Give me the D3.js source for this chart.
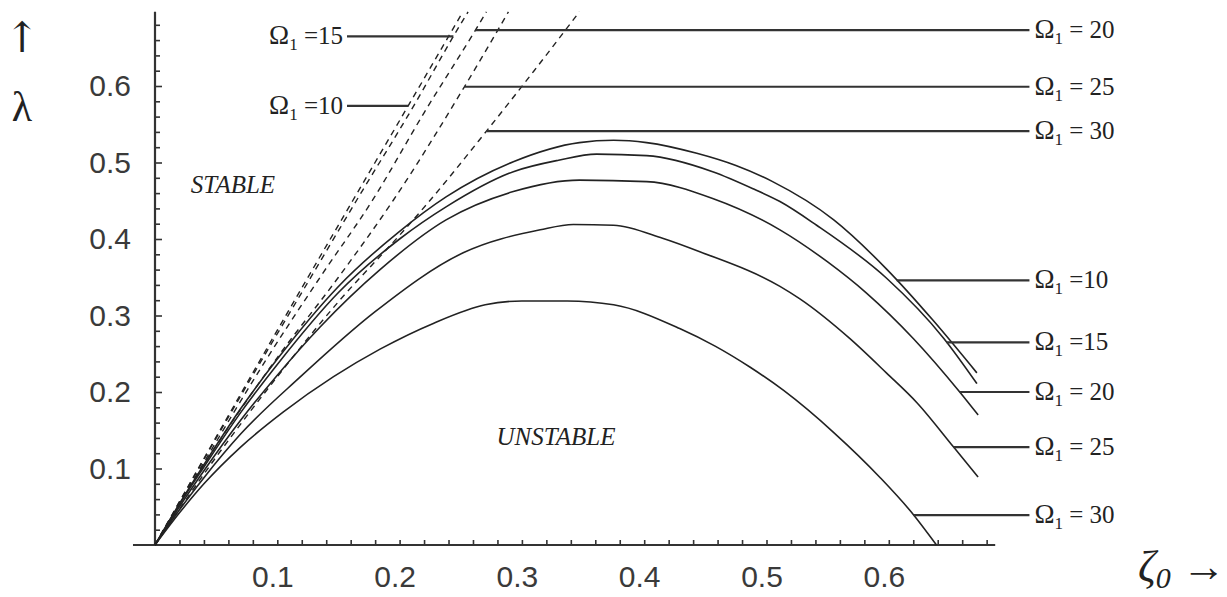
<!DOCTYPE html>
<html>
<head>
<meta charset="utf-8">
<script src="https://cdn.jsdelivr.net/npm/d3@7/dist/d3.min.js"></script>
<style>
  body { margin: 0; background: #fff; }
  text { fill: #222; }
</style>
</head>
<body>
<svg id="chart" width="1227" height="597"></svg>
<script>
// Omega_1 values of the five cases
var omegas = [10, 15, 20, 25, 30];
var omegaText = ['=10', '=15', '= 20', '= 25', '= 30'];

// stability boundaries (solid), [zeta0, lambda]
var solid10 = [[0, 0], [0.02, 0.054], [0.04, 0.105], [0.07, 0.178], [0.1, 0.243], [0.15, 0.338], [0.2, 0.41], [0.238, 0.455], [0.293, 0.501], [0.347, 0.526], [0.375, 0.529], [0.402, 0.526], [0.443, 0.512], [0.475, 0.496], [0.505, 0.475], [0.555, 0.425], [0.598, 0.361], [0.636, 0.294], [0.672, 0.225]];
var solid15 = [[0, 0], [0.02, 0.053], [0.04, 0.102], [0.07, 0.173], [0.1, 0.236], [0.15, 0.33], [0.2, 0.4], [0.238, 0.442], [0.293, 0.488], [0.33, 0.503], [0.361, 0.511], [0.402, 0.509], [0.456, 0.488], [0.49, 0.465], [0.511, 0.449], [0.541, 0.418], [0.598, 0.349], [0.645, 0.27], [0.672, 0.211]];
var solid20 = [[0, 0], [0.02, 0.05], [0.04, 0.097], [0.07, 0.163], [0.1, 0.222], [0.135, 0.285], [0.184, 0.36], [0.238, 0.425], [0.293, 0.462], [0.347, 0.477], [0.402, 0.475], [0.456, 0.453], [0.511, 0.412], [0.55, 0.37], [0.582, 0.329], [0.62, 0.27], [0.658, 0.2], [0.673, 0.17]];
var solid25 = [[0, 0], [0.02, 0.046], [0.04, 0.088], [0.07, 0.145], [0.119, 0.22], [0.18, 0.305], [0.252, 0.382], [0.315, 0.412], [0.342, 0.419], [0.375, 0.418], [0.415, 0.401], [0.446, 0.383], [0.511, 0.338], [0.527, 0.322], [0.568, 0.27], [0.598, 0.225], [0.623, 0.186], [0.653, 0.128], [0.673, 0.089]];
var solid30 = [[0, 0], [0.02, 0.042], [0.04, 0.08], [0.07, 0.128], [0.105, 0.174], [0.146, 0.22], [0.184, 0.256], [0.228, 0.29], [0.27, 0.314], [0.3, 0.319], [0.337, 0.319], [0.375, 0.314], [0.429, 0.283], [0.458, 0.26], [0.487, 0.232], [0.514, 0.202], [0.555, 0.147], [0.593, 0.088], [0.62, 0.04], [0.639, 0]];

// dashed curves
var dashed10 = [[0, 0], [0.04, 0.113], [0.08, 0.225], [0.12, 0.336], [0.162, 0.451], [0.207, 0.574], [0.251, 0.695]];
var dashed15 = [[0, 0], [0.04, 0.112], [0.08, 0.222], [0.12, 0.33], [0.165, 0.451], [0.213, 0.578], [0.244, 0.665], [0.256, 0.697]];
var dashed20 = [[0, 0], [0.04, 0.108], [0.09, 0.24], [0.135, 0.35], [0.178, 0.451], [0.22, 0.565], [0.262, 0.673], [0.271, 0.697]];
var dashed25 = [[0, 0], [0.04, 0.105], [0.1, 0.245], [0.15, 0.35], [0.195, 0.451], [0.253, 0.599], [0.289, 0.697]];
var dashed30 = [[0, 0], [0.05, 0.115], [0.1, 0.22], [0.15, 0.318], [0.2, 0.405], [0.222, 0.445], [0.271, 0.541], [0.31, 0.62], [0.347, 0.697]];

var solidCurves = [solid10, solid15, solid20, solid25, solid30];
var dashedCurves = [dashed10, dashed15, dashed20, dashed25, dashed30];

// lambda levels where the labels point at the curves
var solidLabelLambda = [0.346, 0.265, 0.2, 0.128, 0.039];
var dashedLeftOmegas = [15, 10];
var dashedLeftLambda = [0.665, 0.574];
var dashedRightOmegas = [20, 25, 30];
var dashedRightLambda = [0.673, 0.599, 0.541];

// axes ticks
var tickValues = d3.range(1, 35).map(function (i) { return +(i * 0.02).toFixed(2); });

var svg = d3.select('#chart');
var x = d3.scaleLinear().domain([0, 0.7]).range([155, 1011.1]);
var y = d3.scaleLinear().domain([0, 0.7]).range([545, 9.5]);

var leaderEnd = 0.715;   // right leader lines end here (zeta units)
var leaderStart = 0.157; // left leader lines start here

function isMajor(d) {
  return Math.abs(d * 10 - Math.round(d * 10)) < 1e-6;
}

function drawAxes() {
  var xAxis = d3.axisBottom(x)
    .tickValues(tickValues)
    .tickSize(-5)
    .tickPadding(21)
    .tickFormat(function (d) { return isMajor(d) ? d3.format('.1f')(d) : ''; });
  var gx = svg.append('g')
    .attr('class', 'axis x')
    .attr('transform', 'translate(0,' + y(0) + ')')
    .call(xAxis);
  gx.select('.domain').remove();
  gx.selectAll('.tick text').attr('dx', -5);

  var yAxis = d3.axisLeft(y)
    .tickValues(tickValues)
    .tickSize(-5)
    .tickPadding(24)
    .tickFormat(function (d) { return isMajor(d) ? d3.format('.1f')(d) : ''; });
  var gy = svg.append('g')
    .attr('class', 'axis y')
    .attr('transform', 'translate(' + x(0) + ',0)')
    .call(yAxis);
  gy.select('.domain').remove();
  gy.selectAll('.tick line').filter(isMajor).attr('x2', 7);

  svg.selectAll('.axis .tick line')
    .attr('stroke', '#333')
    .attr('stroke-width', 1.6);
  svg.selectAll('.axis .tick text')
    .attr('font-family', 'Liberation Sans, Arial, sans-serif')
    .attr('font-size', 30)
    .style('fill', '#3a3a3a');

  // axis lines
  svg.append('line')
    .attr('x1', x(-0.018)).attr('x2', x(0.687))
    .attr('y1', y(0)).attr('y2', y(0))
    .attr('stroke', '#333').attr('stroke-width', 2.2);
  svg.append('line')
    .attr('x1', x(0)).attr('x2', x(0))
    .attr('y1', y(0)).attr('y2', y(0.697))
    .attr('stroke', '#333').attr('stroke-width', 2.2);
}

function drawCurves() {
  var line = d3.line()
    .x(function (d) { return x(d[0]); })
    .y(function (d) { return y(d[1]); })
    .curve(d3.curveMonotoneX);

  svg.append('g').attr('class', 'dashed')
    .selectAll('path')
    .data(dashedCurves)
    .enter()
    .append('path')
    .attr('d', line)
    .attr('fill', 'none')
    .attr('stroke', '#222')
    .attr('stroke-width', 1.4)
    .attr('stroke-dasharray', '6,5');

  svg.append('g').attr('class', 'solid')
    .selectAll('path')
    .data(solidCurves)
    .enter()
    .append('path')
    .attr('d', line)
    .attr('fill', 'none')
    .attr('stroke', '#222')
    .attr('stroke-width', 1.6);
}

// zeta where a polyline crosses lambda, searching from index 'from'
function crossAt(pts, lam, from) {
  for (var i = from; i < pts.length - 1; i++) {
    var a = pts[i], b = pts[i + 1];
    if ((a[1] - lam) * (b[1] - lam) <= 0 && a[1] !== b[1]) {
      return a[0] + (lam - a[1]) / (b[1] - a[1]) * (b[0] - a[0]);
    }
  }
  return pts[pts.length - 1][0];
}

function peakIndex(pts) {
  var k = 0;
  pts.forEach(function (p, i) { if (p[1] > pts[k][1]) k = i; });
  return k;
}

function omegaLabel(g, px, py, idx, anchor) {
  var t = g.append('text')
    .attr('x', px)
    .attr('y', py + 8)
    .attr('text-anchor', anchor)
    .attr('font-family', 'Liberation Serif, Times New Roman, serif')
    .attr('font-size', 25);
  t.append('tspan').attr('font-size', 27).text('Ω');
  t.append('tspan').attr('font-size', 17).attr('dy', 6).text('1');
  t.append('tspan').attr('dy', -6).text(' ' + omegaText[idx]);
}

function drawLabels() {
  var g = svg.append('g').attr('class', 'labels');

  function leader(z0, z1, lam) {
    g.append('line')
      .attr('x1', x(z0)).attr('x2', x(z1))
      .attr('y1', y(lam)).attr('y2', y(lam))
      .attr('stroke', '#333')
      .attr('stroke-width', 2.2);
  }

  // solid curves, right side
  solidCurves.forEach(function (pts, i) {
    var lam = solidLabelLambda[i];
    var z = crossAt(pts, lam, peakIndex(pts));
    leader(z, leaderEnd, lam);
    omegaLabel(g, x(leaderEnd) + 5, y(lam), i, 'start');
  });

  // dashed curves, right side
  dashedRightOmegas.forEach(function (om, j) {
    var i = omegas.indexOf(om);
    var lam = dashedRightLambda[j];
    var z = crossAt(dashedCurves[i], lam, 0);
    leader(z, leaderEnd, lam);
    omegaLabel(g, x(leaderEnd) + 5, y(lam), i, 'start');
  });

  // dashed curves, left side
  dashedLeftOmegas.forEach(function (om, j) {
    var i = omegas.indexOf(om);
    var lam = dashedLeftLambda[j];
    var z = crossAt(dashedCurves[i], lam, 0);
    leader(leaderStart, z, lam);
    omegaLabel(g, x(leaderStart) - 4, y(lam), i, 'end');
  });

  // region names
  g.append('text')
    .attr('x', 233).attr('y', 193)
    .attr('text-anchor', 'middle')
    .attr('font-family', 'Liberation Serif, Times New Roman, serif')
    .attr('font-style', 'italic')
    .attr('font-size', 25)
    .text('STABLE');
  g.append('text')
    .attr('x', 556).attr('y', 445)
    .attr('text-anchor', 'middle')
    .attr('font-family', 'Liberation Serif, Times New Roman, serif')
    .attr('font-style', 'italic')
    .attr('font-size', 25)
    .text('UNSTABLE');

  // axis names
  g.append('text')
    .attr('x', 22).attr('y', 52)
    .attr('text-anchor', 'middle')
    .attr('font-family', 'DejaVu Serif, serif')
    .attr('font-size', 42)
    .text('↑');
  g.append('text')
    .attr('x', 22).attr('y', 121)
    .attr('text-anchor', 'middle')
    .attr('font-family', 'Liberation Serif, Times New Roman, serif')
    .attr('font-size', 42)
    .text('λ');

  var zt = g.append('text')
    .attr('x', 1138).attr('y', 581)
    .attr('font-family', 'Liberation Serif, Times New Roman, serif')
    .attr('font-size', 44);
  zt.append('tspan').attr('font-style', 'italic').text('ζ');
  zt.append('tspan').attr('font-style', 'italic').attr('font-size', 30).attr('dy', 7).text('0');
  zt.append('tspan').attr('dy', -7).text(' →');
}

drawAxes();
drawCurves();
drawLabels();
</script>
</body>
</html>
